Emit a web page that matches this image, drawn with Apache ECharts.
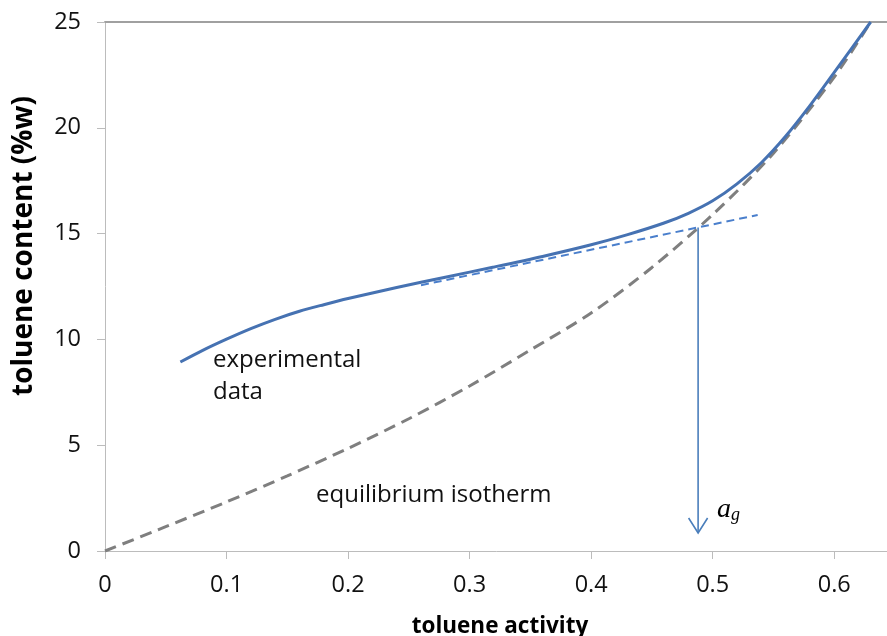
<!DOCTYPE html>
<html><head><meta charset="utf-8">
<script src="https://cdn.jsdelivr.net/npm/echarts@6/dist/echarts.min.js"></script>
<style>html,body{margin:0;padding:0;background:#fff}#c{width:887px;height:636px}</style>
</head><body><div id="c"></div>
<script>
// experimental data (toluene activity vs toluene content %w)
const expX = [0.062, 0.08, 0.10, 0.12, 0.14, 0.16, 0.18, 0.20, 0.24, 0.28, 0.32, 0.36, 0.40, 0.43, 0.46, 0.48, 0.50, 0.52, 0.54, 0.56, 0.58, 0.60, 0.63];
const expY = [8.93, 9.47, 10.01, 10.51, 10.95, 11.33, 11.64, 11.93, 12.45, 12.94, 13.42, 13.92, 14.47, 14.95, 15.50, 15.96, 16.55, 17.35, 18.35, 19.60, 21.05, 22.62, 25.0];
// equilibrium isotherm
const eqX = [0, 0.05, 0.1, 0.15, 0.2, 0.25, 0.3, 0.35, 0.4, 0.45, 0.5, 0.55, 0.6, 0.63];
const eqY = [0, 1.15, 2.32, 3.55, 4.85, 6.25, 7.8, 9.5, 11.25, 13.4, 15.9, 18.8, 22.4, 25.0];
// tangent line
const tanX = [0.26, 0.537];
const tanY = [12.56, 15.88];
// arrow to a_g
const arrowX = [0.488, 0.488];
const arrowY = [15.29, 0.85];
// axes
const xMin = 0, xMax = 0.65, xStep = 0.1;
const yMin = 0, yMax = 25, yStep = 5;
const xTitle = 'toluene activity';
const yTitle = 'toluene content (%w)';
const labelExp = 'experimental\ndata';
const labelEq = 'equilibrium isotherm';

const zip = (a, b) => a.map((v, i) => [v, b[i]]);
const FONT = 'Open Sans';
const axisColor = '#bcbcbc';

const chart = echarts.init(document.getElementById('c'), null, {renderer: 'canvas'});
chart.setOption({
  animation: false,
  backgroundColor: '#fff',
  grid: {left: 105, right: -8, top: 22, bottom: 85, containLabel: false, outerBoundsMode: 'none'},
  xAxis: [{
    type: 'value', min: xMin, max: xMax, interval: xStep,
    axisLine: {show: true, onZero: false, lineStyle: {color: axisColor, width: 1}},
    axisTick: {show: true, inside: false, length: 8, lineStyle: {color: axisColor}},
    splitLine: {show: false},
    axisLabel: {fontSize: 23.5, fontFamily: FONT, color: '#111', margin: 22, showMaxLabel: false},
    name: xTitle, nameLocation: 'middle', nameGap: 64,
    nameTextStyle: {fontSize: 22.5, fontWeight: 'bold', fontFamily: FONT, color: '#000'}
  }, {
    type: 'value', min: xMin, max: xMax, position: 'top',
    axisLine: {show: true, onZero: false, lineStyle: {color: '#a0a0a0', width: 2}},
    axisTick: {show: false}, axisLabel: {show: false}, splitLine: {show: false}
  }],
  yAxis: {
    type: 'value', min: yMin, max: yMax, interval: yStep,
    axisLine: {show: true, onZero: false, lineStyle: {color: axisColor, width: 1}},
    axisTick: {show: true, inside: false, length: 8, lineStyle: {color: axisColor}},
    splitLine: {show: false},
    axisLabel: {fontSize: 23.5, fontFamily: FONT, color: '#111', margin: 24}
  },
  graphic: [
    {type: 'text', x: 24, y: 246, rotation: Math.PI / 2,
     style: {text: yTitle, fontSize: 28, fontWeight: 'bold', fontFamily: FONT, fill: '#000', align: 'center', verticalAlign: 'middle'}},
    {type: 'text', left: 213, top: 344,
     style: {text: labelExp, fontSize: 24, fontFamily: FONT, fill: '#111', lineHeight: 32}},
    {type: 'text', left: 316, top: 483,
     style: {text: labelEq, fontSize: 24, fontFamily: FONT, fill: '#111'}},
    {type: 'text', left: 717, top: 496,
     style: {text: 'a', fontSize: 28, fontStyle: 'italic', fontFamily: 'Liberation Serif', fill: '#000'}},
    {type: 'text', left: 731, top: 506,
     style: {text: 'g', fontSize: 18, fontStyle: 'italic', fontFamily: 'Liberation Serif', fill: '#000'}}
  ],
  series: [
    {type: 'line', name: 'equilibrium isotherm', data: zip(eqX, eqY), showSymbol: false, smooth: 0.3,
     lineStyle: {color: '#7f7f7f', width: 3, type: [12, 7]}, z: 2, silent: true},
    {type: 'line', name: 'tangent', data: zip(tanX, tanY), showSymbol: false,
     lineStyle: {color: '#4a7fcc', width: 2, type: [8, 5]}, z: 3, silent: true},
    {type: 'line', name: 'experimental data', data: zip(expX, expY), showSymbol: false, smooth: 0.3,
     lineStyle: {color: '#4672b2', width: 3}, z: 4, silent: true},
    {type: 'custom', name: 'arrow', data: [[arrowX[0], arrowY[0]]], z: 5, silent: true, clip: false,
     renderItem: function (params, api) {
       const p0 = api.coord([arrowX[0], arrowY[0]]);
       const p1 = api.coord([arrowX[1], arrowY[1]]);
       const c = '#4a7ebb';
       return {type: 'group', children: [
         {type: 'line', shape: {x1: p0[0], y1: p0[1], x2: p1[0], y2: p1[1]}, style: {stroke: c, lineWidth: 1.6}},
         {type: 'polyline', shape: {points: [[p1[0] - 9.5, p1[1] - 15], [p1[0], p1[1]], [p1[0] + 9.5, p1[1] - 15]]},
          style: {stroke: c, fill: null, lineWidth: 1.6}}
       ]};
     }}
  ]
});
</script></body></html>
